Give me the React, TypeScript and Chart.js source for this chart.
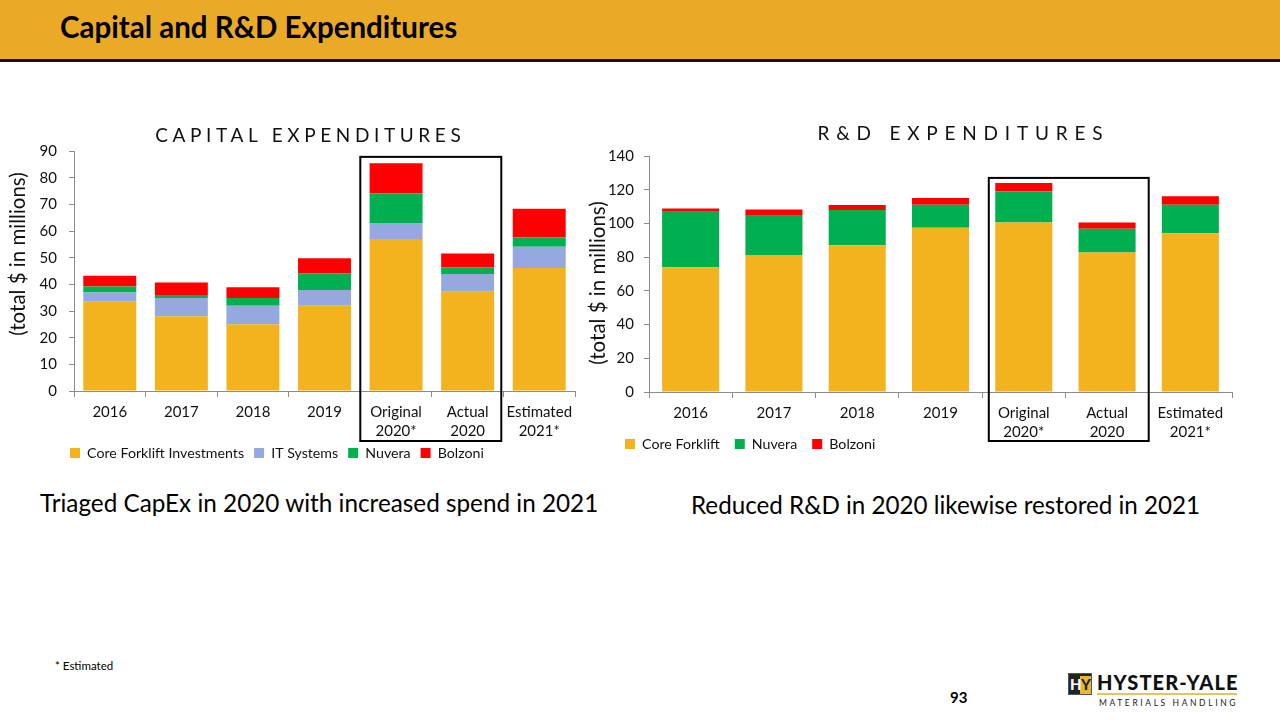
import React, { useEffect, useRef } from 'react';
import { Chart, registerables } from 'chart.js';

Chart.register(...registerables);

const FONT = 'Lato, "Noto Sans", sans-serif';

// ---- data ----
const categories: (string | string[])[] = [
  '2016', '2017', '2018', '2019', ['Original', '2020*'], ['Actual', '2020'], ['Estimated', '2021*'],
];

const capexCore = [33.5, 28.0, 25.0, 32.0, 57.0, 37.2, 46.1];
const capexIT = [3.4, 6.9, 7.0, 5.9, 6.0, 6.7, 8.0];
const capexNuvera = [2.3, 1.1, 2.9, 6.3, 11.1, 2.4, 3.5];
const capexBolzoni = [4.0, 4.7, 4.0, 5.6, 11.3, 5.3, 10.7];

const rdCore = [74.0, 81.0, 87.0, 97.5, 100.5, 82.7, 94.1];
const rdNuvera = [33.0, 24.0, 21.0, 13.6, 18.5, 14.2, 17.0];
const rdBolzoni = [1.8, 3.2, 2.9, 4.0, 5.0, 3.6, 5.0];

const capexTicks = { min: 0, max: 90, step: 10 };
const rdTicks = { min: 0, max: 140, step: 20 };

const COLORS = {
  core: '#F2B31F',
  it: '#95A9E0',
  nuvera: '#00B050',
  bolzoni: '#FF0000',
};

const LEGEND_FONT = 14.2;
const LEGEND_BOX_H = 30;

// ---- plugins ----
const spacedTitle = {
  id: 'spacedTitle',
  afterDraw(chart: any, _args: any, opts: any) {
    if (!opts || !opts.text) return;
    const ctx = chart.ctx;
    ctx.save();
    ctx.font = `${opts.size}px ${FONT}`;
    ctx.fillStyle = opts.color || '#000';
    (ctx as any).letterSpacing = `${opts.spacing}px`;
    ctx.textAlign = 'center';
    ctx.textBaseline = 'middle';
    ctx.fillText(opts.text, opts.x + opts.spacing / 2, opts.y);
    ctx.restore();
  },
};

const axisTitle = {
  id: 'axisTitle',
  afterDraw(chart: any, _args: any, opts: any) {
    if (!opts || !opts.text) return;
    const ctx = chart.ctx;
    ctx.save();
    ctx.translate(opts.x, opts.y);
    ctx.rotate(-Math.PI / 2);
    ctx.font = `${opts.size}px ${FONT}`;
    ctx.fillStyle = opts.color || '#000';
    ctx.textAlign = 'center';
    ctx.textBaseline = 'middle';
    ctx.fillText(opts.text, 0, 0);
    ctx.restore();
  },
};

const highlightBox = {
  id: 'highlightBox',
  afterDraw(chart: any, _args: any, opts: any) {
    if (!opts || opts.from == null) return;
    const xs = chart.scales.x;
    const ys = chart.scales.y;
    const step = xs.getPixelForValue(1) - xs.getPixelForValue(0);
    const left = xs.getPixelForValue(opts.from) - step * opts.leftFrac;
    const right = xs.getPixelForValue(opts.to) + step * opts.rightFrac;
    const top = ys.getPixelForValue(opts.topValue);
    const bottom = chart.chartArea.bottom + opts.below;
    const ctx = chart.ctx;
    ctx.save();
    ctx.strokeStyle = '#000';
    ctx.lineWidth = 2;
    ctx.strokeRect(left, top, right - left, bottom - top);
    ctx.restore();
  },
};

// places the bottom legend row so that its items are centred on opts.centerY
const legendPlace = {
  id: 'legendPlace',
  afterLayout(chart: any, _args: any, opts: any) {
    const lg = chart.legend;
    if (!opts || !lg) return;
    const pad = lg.options.labels.padding;
    const h = lg.bottom - lg.top;
    lg.left += opts.dx;
    lg.right += opts.dx;
    lg.top = opts.centerY - pad - LEGEND_FONT / 2;
    lg.bottom = lg.top + h;
  },
};

function makeConfig(p: {
  datasets: { label: string; data: number[]; color: string }[];
  ticks: { min: number; max: number; step: number };
  barPct: number;
  padding: any;
  yWidth: number;
  xHeight: number;
  yTickLen: number;
  yTickPad: number;
  legendPad: number;
  legendDx: number;
  legendCenterY: number;
  title: any;
  yTitle: any;
  box: any;
}) {
  return {
    type: 'bar' as const,
    data: {
      labels: categories,
      datasets: p.datasets.map((d) => ({
        label: d.label,
        data: d.data,
        backgroundColor: d.color,
        borderWidth: 0,
        barPercentage: p.barPct,
        categoryPercentage: 1,
      })),
    },
    plugins: [spacedTitle, axisTitle, highlightBox, legendPlace],
    options: {
      responsive: false,
      animation: false as const,
      devicePixelRatio: 1,
      layout: { padding: p.padding },
      scales: {
        x: {
          stacked: true,
          grid: {
            display: true,
            drawOnChartArea: false,
            drawTicks: true,
            tickLength: 6,
            color: '#8C8C8C',
            offset: true,
          },
          border: { display: true, color: '#8C8C8C', width: 1 },
          ticks: {
            color: '#111',
            padding: 6,
            maxRotation: 0,
            autoSkip: false,
            font: { family: FONT, size: 15, lineHeight: 1.27 },
          },
          afterFit(scale: any) {
            scale.height = p.xHeight;
          },
        },
        y: {
          stacked: true,
          min: p.ticks.min,
          max: p.ticks.max,
          grid: {
            display: true,
            drawOnChartArea: false,
            drawTicks: true,
            tickLength: p.yTickLen,
            color: '#8C8C8C',
          },
          border: { display: true, color: '#8C8C8C', width: 1 },
          ticks: {
            stepSize: p.ticks.step,
            color: '#111',
            padding: p.yTickPad,
            font: { family: FONT, size: 15 },
          },
          title: { display: false },
          afterFit(scale: any) {
            scale.width = p.yWidth;
          },
        },
      },
      plugins: {
        title: { display: false },
        tooltip: { enabled: false },
        legend: {
          display: true,
          position: 'bottom' as const,
          align: 'start' as const,
          maxHeight: LEGEND_BOX_H,
          labels: {
            boxWidth: 10,
            boxHeight: 10,
            padding: p.legendPad,
            color: '#111',
            font: { family: FONT, size: LEGEND_FONT },
          },
        },
        spacedTitle: p.title,
        axisTitle: p.yTitle,
        highlightBox: p.box,
        legendPlace: { dx: p.legendDx, centerY: p.legendCenterY },
      },
    },
  };
}

function ChartCanvas({ config, w, h, left, top }: { config: any; w: number; h: number; left: number; top: number }) {
  const ref = useRef<HTMLCanvasElement | null>(null);
  useEffect(() => {
    if (!ref.current) return;
    const chart = new Chart(ref.current, config);
    return () => chart.destroy();
  }, [config]);
  return (
    <canvas
      ref={ref}
      width={w}
      height={h}
      style={{ position: 'absolute', left, top, width: w, height: h }}
    />
  );
}

// left chart: plot area bottom at 281 in canvas => height = 281 + 56 + 30 + 1
const capexConfig = makeConfig({
  datasets: [
    { label: 'Core Forklift Investments', data: capexCore, color: COLORS.core },
    { label: 'IT Systems', data: capexIT, color: COLORS.it },
    { label: 'Nuvera', data: capexNuvera, color: COLORS.nuvera },
    { label: 'Bolzoni', data: capexBolzoni, color: COLORS.bolzoni },
  ],
  ticks: capexTicks,
  barPct: 0.74,
  padding: { top: 41, right: 15, bottom: 1, left: 0 },
  yWidth: 74,
  xHeight: 56,
  yTickLen: 5,
  yTickPad: 12,
  legendPad: 10,
  legendDx: 60,
  legendCenterY: 343,
  title: { text: 'CAPITAL EXPENDITURES', size: 19, spacing: 4.6, x: 308, y: 26, color: '#111' },
  yTitle: { text: '(total $ in millions)', size: 20.5, x: 18, y: 144, color: '#111' },
  box: { from: 4, to: 5, leftFrac: 0.5, rightFrac: 0.47, topValue: 87.8, below: 50 },
});

// right chart: plot area bottom at 282 in canvas => height = 282 + 52 + 30 + 2
const rdConfig = makeConfig({
  datasets: [
    { label: 'Core Forklift', data: rdCore, color: COLORS.core },
    { label: 'Nuvera', data: rdNuvera, color: COLORS.nuvera },
    { label: 'Bolzoni', data: rdBolzoni, color: COLORS.bolzoni },
  ],
  ticks: rdTicks,
  barPct: 0.685,
  padding: { top: 46, right: 18, bottom: 2, left: 0 },
  yWidth: 64,
  xHeight: 52,
  yTickLen: 5,
  yTickPad: 10,
  legendPad: 15,
  legendDx: 25,
  legendCenterY: 334,
  title: { text: 'R&D EXPENDITURES', size: 19, spacing: 6.8, x: 375, y: 24, color: '#111' },
  yTitle: { text: '(total $ in millions)', size: 20.5, x: 13, y: 173, color: '#111' },
  box: { from: 4, to: 5, leftFrac: 0.42, rightFrac: 0.5, topValue: 127, below: 49 },
});

export default function App() {
  return (
    <div
      style={{
        position: 'fixed',
        left: 0,
        top: 0,
        width: 1280,
        height: 720,
        background: '#fff',
        overflow: 'hidden',
        fontFamily: FONT,
        color: '#111',
      }}
    >
      {/* header band */}
      <div
        style={{
          position: 'absolute',
          left: 0,
          top: 0,
          width: 1280,
          height: 59,
          background: '#EAAA27',
          borderBottom: '3px solid #111',
        }}
      />
      <div
        style={{
          position: 'absolute',
          left: 60,
          top: 12,
          fontSize: 29.5,
          lineHeight: '29px',
          fontWeight: 700,
          color: '#000',
          whiteSpace: 'nowrap',
        }}
      >
        Capital and R&amp;D Expenditures
      </div>

      <ChartCanvas config={capexConfig} w={590} h={368} left={0} top={110} />
      <ChartCanvas config={rdConfig} w={665} h={366} left={585} top={110} />

      <div
        style={{
          position: 'absolute',
          left: 40,
          top: 491,
          fontSize: 24.3,
          lineHeight: '24px',
          whiteSpace: 'nowrap',
          color: '#000',
        }}
      >
        Triaged CapEx in 2020 with increased spend in 2021
      </div>
      <div
        style={{
          position: 'absolute',
          left: 691,
          top: 493,
          fontSize: 24.2,
          lineHeight: '24px',
          whiteSpace: 'nowrap',
          color: '#000',
        }}
      >
        Reduced R&amp;D in 2020 likewise restored in 2021
      </div>

      <div
        style={{
          position: 'absolute',
          left: 55,
          top: 660,
          fontSize: 11.5,
          lineHeight: '12px',
          whiteSpace: 'nowrap',
          color: '#000',
        }}
      >
        * Estimated
      </div>
      <div
        style={{
          position: 'absolute',
          left: 950,
          top: 690,
          fontSize: 15,
          lineHeight: '15px',
          fontWeight: 700,
          color: '#000',
        }}
      >
        93
      </div>

      {/* logo */}
      <div style={{ position: 'absolute', left: 1068, top: 673, width: 24, height: 22 }}>
        <div
          style={{
            position: 'absolute',
            left: 0,
            top: 0,
            width: 24,
            height: 22,
            background: '#222',
            border: '1px solid #555',
            boxSizing: 'border-box',
          }}
        />
        <div
          style={{
            position: 'absolute',
            left: 12,
            top: 3,
            width: 11,
            height: 18,
            background: '#E8B534',
          }}
        />
        <div
          style={{
            position: 'absolute',
            left: 2,
            top: 3,
            fontSize: 15,
            lineHeight: '17px',
            fontWeight: 900,
            color: '#fff',
          }}
        >
          H
        </div>
        <div
          style={{
            position: 'absolute',
            left: 13,
            top: 3,
            fontSize: 15,
            lineHeight: '17px',
            fontWeight: 900,
            color: '#222',
          }}
        >
          Y
        </div>
      </div>
      <div
        style={{
          position: 'absolute',
          left: 1097,
          top: 673,
          fontSize: 20,
          lineHeight: '19px',
          fontWeight: 900,
          color: '#111',
          whiteSpace: 'nowrap',
          letterSpacing: '1.1px',
        }}
      >
        HYSTER-YALE
      </div>
      <div
        style={{
          position: 'absolute',
          left: 1097,
          top: 693,
          width: 140,
          height: 2,
          background: '#E3C463',
        }}
      />
      <div
        style={{
          position: 'absolute',
          left: 1099,
          top: 699,
          fontSize: 8.5,
          lineHeight: '9px',
          letterSpacing: '2.6px',
          color: '#222',
          whiteSpace: 'nowrap',
        }}
      >
        MATERIALS HANDLING
      </div>
    </div>
  );
}
